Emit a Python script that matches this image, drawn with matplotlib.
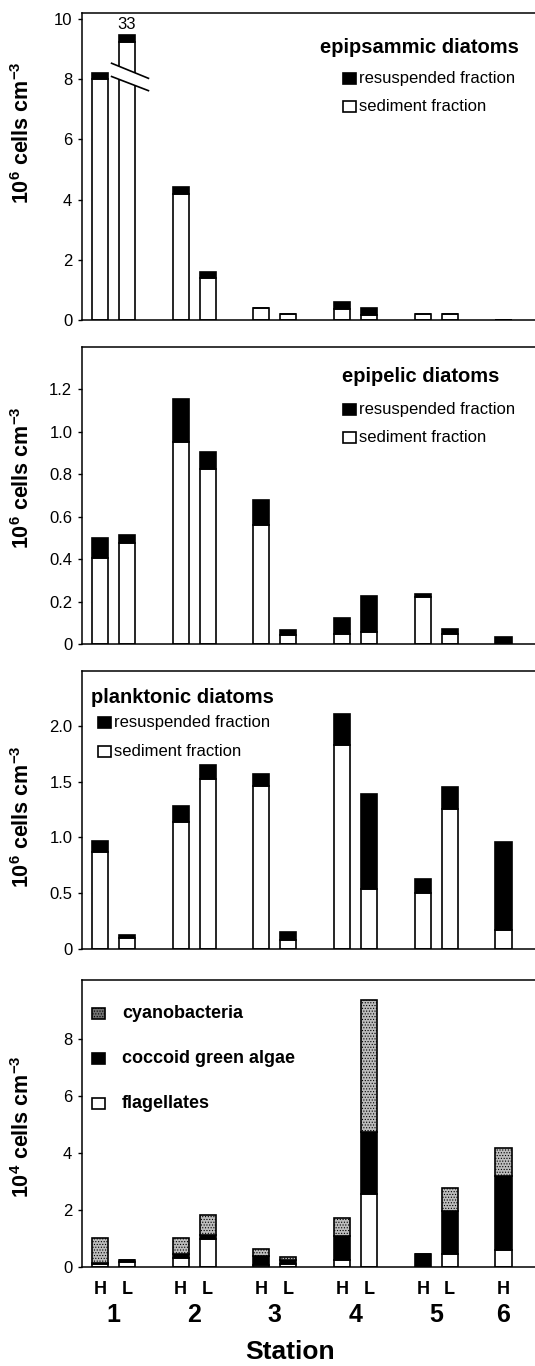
import numpy as np
import matplotlib.pyplot as plt
from matplotlib.patches import Rectangle, Polygon
import matplotlib.transforms as mtransforms

plt.rcParams['font.family'] = ['Liberation Sans', 'DejaVu Sans']
plt.rcParams['mathtext.default'] = 'regular'
plt.rcParams['hatch.linewidth'] = 0.5

# stations and sampling level (H / L) of each bar
stations = [1, 1, 2, 2, 3, 3, 4, 4, 5, 5, 6]
levels = ['H', 'L', 'H', 'L', 'H', 'L', 'H', 'L', 'H', 'L', 'H']

# epipsammic diatoms, 10^6 cells cm-3 (1L is drawn cut off, true total 33)
epips_sed = [8.00, 9.22, 4.19, 1.38, 0.40, 0.19, 0.36, 0.17, 0.19, 0.19, 0.0]
epips_res = [0.22, 0.26, 0.23, 0.23, 0.0, 0.0, 0.24, 0.22, 0.0, 0.0, 0.0]
epips_1L_total = '33'

# epipelic diatoms, 10^6 cells cm-3
epipel_sed = [0.404, 0.474, 0.950, 0.823, 0.560, 0.044, 0.049, 0.057, 0.223, 0.049, 0.0]
epipel_res = [0.096, 0.042, 0.203, 0.082, 0.119, 0.021, 0.074, 0.170, 0.011, 0.020, 0.033]

# planktonic diatoms, 10^6 cells cm-3
plank_sed = [0.869, 0.100, 1.134, 1.519, 1.463, 0.084, 1.824, 0.534, 0.504, 1.251, 0.173]
plank_res = [0.095, 0.025, 0.144, 0.126, 0.107, 0.065, 0.283, 0.854, 0.126, 0.200, 0.782]

# other phytoplankton, 10^4 cells cm-3
flagellates = [0.10, 0.17, 0.33, 0.97, 0.07, 0.10, 0.23, 2.54, 0.0, 0.44, 0.58]
coccoid = [0.04, 0.09, 0.11, 0.16, 0.30, 0.13, 0.86, 2.17, 0.44, 1.52, 2.59]
cyano = [0.88, 0.0, 0.57, 0.70, 0.27, 0.12, 0.62, 4.63, 0.0, 0.80, 0.99]

ticks1 = [0, 2, 4, 6, 8, 10]
ticks2 = [0, 0.2, 0.4, 0.6, 0.8, 1.0, 1.2]
ticks3 = [0, 0.5, 1.0, 1.5, 2.0]
ticks4 = [0, 2, 4, 6, 8]
labels1 = ['0', '2', '4', '6', '8', '10']
labels2 = ['0', '0.2', '0.4', '0.6', '0.8', '1.0', '1.2']
labels3 = ['0', '0.5', '1.0', '1.5', '2.0']
labels4 = ['0', '2', '4', '6', '8']

x = np.array([3 * (s - 1) + (0 if l == 'H' else 1) for s, l in zip(stations, levels)])

W, H = 535, 1366
fig = plt.figure(figsize=(W / 100, H / 100), dpi=100)
LEFT = 82


def panel(top, bottom, ymax, ticks, labels, ylab, label_y):
    ax = fig.add_axes([LEFT / W, 1 - bottom / H, 1 - LEFT / W, (bottom - top) / H])
    ax.set_xlim(-0.67, 16.17)
    ax.set_ylim(0, ymax)
    for s in ['left', 'bottom', 'top']:
        ax.spines[s].set_linewidth(1.1)
    ax.spines['right'].set_visible(False)
    ax.set_xticks([])
    ax.set_yticks(ticks, labels)
    ax.tick_params(axis='y', direction='out', length=3, width=1, pad=4, labelsize=12)
    ax.set_ylabel(ylab, fontsize=15.5, fontweight='bold')
    ax.yaxis.set_label_coords(-0.105, label_y)
    return ax


def key(ax, x0, yc, label, face, hatch=None, size=12, weight='normal', tx=None):
    w = 13 / ax.bbox.width
    h = 11 / ax.bbox.height
    ax.add_patch(Rectangle((x0, yc - h / 2), w, h, transform=ax.transAxes,
                           facecolor=face, edgecolor='black', linewidth=1.2,
                           hatch=hatch, clip_on=False))
    if tx is None:
        tx = x0 + w + 3 / ax.bbox.width
    ax.text(tx, yc, label, transform=ax.transAxes, va='center', ha='left',
            fontsize=size, fontweight=weight)


def stacked(ax, sed, res):
    ax.bar(x, sed, width=0.6, color='white', edgecolor='black', linewidth=1.2)
    ax.bar(x, res, bottom=sed, width=0.6, color='black', edgecolor='black', linewidth=1.2)


ylab6 = '10$^{6}$ cells cm$^{-3}$'

# --- epipsammic
ax1 = panel(13, 320, 10.2, ticks1, labels1, ylab6, 0.61)
stacked(ax1, epips_sed, epips_res)
# axis break on the 1L bar
xb = np.array([0.43, 1.80])
ya = np.array([8.53, 8.03])
yb = np.array([8.09, 7.62])
ax1.add_patch(Polygon([(xb[0], ya[0]), (xb[1], ya[1]), (xb[1], yb[1]), (xb[0], yb[0])],
                      closed=True, facecolor='white', edgecolor='none', zorder=4))
ax1.plot(xb, ya, color='black', lw=1.2, zorder=5)
ax1.plot(xb, yb, color='black', lw=1.2, zorder=5)
ax1.text(x[1], epips_sed[1] + epips_res[1] + 0.33, epips_1L_total, ha='center', va='center', fontsize=12)
ax1.text(0.965, 0.889, 'epipsammic diatoms', transform=ax1.transAxes, ha='right', va='center',
         fontsize=14.5, fontweight='bold')
key(ax1, 0.576, 0.788, 'resuspended fraction', 'black')
key(ax1, 0.576, 0.697, 'sediment fraction', 'white')

# --- epipelic
ax2 = panel(347, 644, 1.4, ticks2, labels2, ylab6, 0.56)
stacked(ax2, epipel_sed, epipel_res)
ax2.text(0.574, 0.899, 'epipelic diatoms', transform=ax2.transAxes, ha='left', va='center',
         fontsize=14.5, fontweight='bold')
key(ax2, 0.576, 0.788, 'resuspended fraction', 'black')
key(ax2, 0.576, 0.694, 'sediment fraction', 'white')

# --- planktonic
ax3 = panel(671, 949, 2.49, ticks3, labels3, ylab6, 0.475)
stacked(ax3, plank_sed, plank_res)
ax3.text(0.02, 0.906, 'planktonic diatoms', transform=ax3.transAxes, ha='left', va='center',
         fontsize=14.5, fontweight='bold')
key(ax3, 0.035, 0.813, 'resuspended fraction', 'black')
key(ax3, 0.035, 0.712, 'sediment fraction', 'white')

# --- other phytoplankton
ax4 = panel(980, 1267, 10.05, ticks4, labels4, '10$^{4}$ cells cm$^{-3}$', 0.49)
fc = np.array(flagellates)
cg = np.array(coccoid)
ax4.bar(x, fc, width=0.6, color='white', edgecolor='black', linewidth=1.2)
ax4.bar(x, cg, bottom=fc, width=0.6, color='black', edgecolor='black', linewidth=1.2)
ax4.bar(x, cyano, bottom=fc + cg, width=0.6, color='#bcbcbc', edgecolor='black',
        linewidth=1.2, hatch='......')
kx = 0.022
ktx = (122 - LEFT) / 453
key(ax4, kx, 0.885, 'cyanobacteria', '#707070', hatch='......', size=13, weight='bold', tx=ktx)
key(ax4, kx, 0.728, 'coccoid green algae', 'black', size=13, weight='bold', tx=ktx)
key(ax4, kx, 0.571, 'flagellates', 'white', size=13, weight='bold', tx=ktx)

ax4.set_xticks(x, levels)
ax4.tick_params(axis='x', length=0, pad=10, labelsize=13)
for t in ax4.get_xticklabels():
    t.set_fontweight('bold')
trans = mtransforms.blended_transform_factory(ax4.transData, ax4.transAxes)
for st in sorted(set(stations)):
    xs = x[np.array(stations) == st]
    ax4.text(xs.mean(), -48 / 287, str(st), transform=trans, ha='center', va='center',
             fontsize=18, fontweight='bold')
fig.text(290 / W, 1 - 1359 / H, 'Station', ha='center', va='baseline', fontsize=19, fontweight='bold')

fig.savefig('out.png', dpi=100)
